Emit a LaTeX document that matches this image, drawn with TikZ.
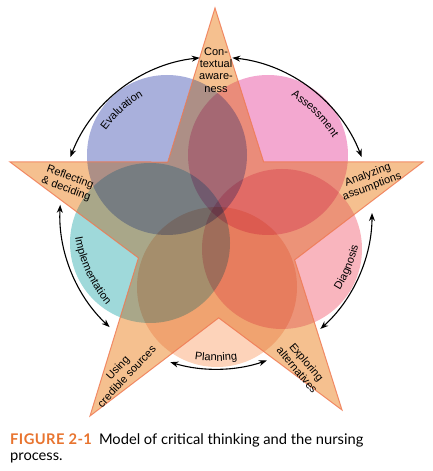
\documentclass[tikz,border=0pt]{standalone}
\usepackage{fontspec}
\setmainfont{Liberation Sans}
\newfontfamily\capfont{Lato}
\usetikzlibrary{arrows.meta,decorations.text,calc}
\definecolor{starfill}{HTML}{F5C08F}
\definecolor{starline}{HTML}{F07C56}
\definecolor{cblue}{HTML}{A9B0DC}
\definecolor{cpink}{HTML}{F3A8D0}
\definecolor{cdiag}{HTML}{F9B5BE}
\definecolor{cplan}{HTML}{FDD3BA}
\definecolor{cteal}{HTML}{9FD9DA}
\definecolor{iblue}{rgb}{0.71,0.745,0.94}
\definecolor{ipink}{rgb}{0.958,0.73,0.857}
\definecolor{idiag}{rgb}{0.963,0.77,0.84}
\definecolor{iplan}{rgb}{0.98,0.85,0.785}
\definecolor{iteal}{rgb}{0.69,0.875,0.966}
\definecolor{figorange}{HTML}{E8742F}
\newcommand\labfont{\fontsize{11}{12.3}\selectfont}
\begin{document}
\begin{tikzpicture}[x=1pt,y=1pt,
  lab/.style={font=\labfont, align=center, inner sep=0pt},
  cyc/.style={line width=1.1pt, {Stealth[length=8pt,width=6pt]}-{Stealth[length=8pt,width=6pt]}},
  disc/.style={blend mode=multiply},
  captext/.style={anchor=base west, inner sep=0pt, font=\capfont\fontsize{14.7}{17}\selectfont}]
\useasboundingbox (0,0) rectangle (433,471);
% star tips
\coordinate (T) at (215,463);
\coordinate (L) at (10,309);
\coordinate (R) at (423,309);
\coordinate (BL) at (90,55);
\coordinate (BR) at (342,61);
\coordinate (iTR) at (intersection of T--BR and L--R);
\coordinate (iRB) at (intersection of R--BL and BR--T);
\coordinate (iBB) at (intersection of BR--L and BL--R);
\coordinate (iBL) at (intersection of BL--T and L--BR);
\coordinate (iLT) at (intersection of L--R and T--BL);
\def\starpath{(T) -- (iTR) -- (R) -- (iRB) -- (BR) -- (iBB) -- (BL) -- (iBL) -- (L) -- (iLT) -- cycle}
\path[fill=starfill] \starpath;
% circles
\coordinate (O) at (216,258);
\coordinate (cB) at (167,316);
\coordinate (cP) at (268,316);
\coordinate (cD) at (282,222);
\coordinate (cN) at (217,184);
\coordinate (cT) at (150,228);
\begin{scope}
  \clip \starpath;
  \fill[disc, iblue] (cB) circle[radius=80];
  \fill[disc, ipink] (cP) circle[radius=80];
  \fill[disc, idiag] (cD) circle[radius=80];
  \fill[disc, iplan] (cN) circle[radius=80];
  \fill[disc, iteal] (cT) circle[radius=80];
\end{scope}
\begin{scope}[even odd rule]
  \clip (-5,-5) rectangle (440,480) \starpath;
  \fill[disc, cblue] (cB) circle[radius=80];
  \fill[disc, cpink] (cP) circle[radius=80];
  \fill[disc, cdiag] (cD) circle[radius=80];
  \fill[disc, cplan] (cN) circle[radius=80];
  \fill[disc, cteal] (cT) circle[radius=80];
\end{scope}
\path[draw=starline, line width=1pt, line join=miter, draw opacity=0.85] \starpath;
% cycle arcs
\draw[cyc] ($(O)+(84:156)$) arc[start angle=84, end angle=21, radius=156];
\draw[cyc] ($(O)+(0:156)$) arc[start angle=0, end angle=-48, radius=156];
\draw[cyc] ($(O)+(-71:156)$) arc[start angle=-71, end angle=-107, radius=156];
\draw[cyc] ($(O)+(227:156)$) arc[start angle=227, end angle=177, radius=156];
\draw[cyc] ($(O)+(159:156)$) arc[start angle=159, end angle=96, radius=156];
% curved labels
\path[decorate, decoration={text along path, text={|\labfont|Evaluation}, text align=center}]
  ($(O)+(165:138)$) arc[start angle=165, end angle=100, radius=138];
\path[decorate, decoration={text along path, text={|\labfont|Assessment}, text align=center}]
  ($(O)+(75:139)$) arc[start angle=75, end angle=15, radius=139];
\path[decorate, decoration={text along path, text={|\labfont|Diagnosis}, text align=center}]
  ($(O)+(-55:146)$) arc[start angle=-55, end angle=10, radius=146];
\path[decorate, decoration={text along path, text={|\labfont|Implementation}, text align=center}]
  ($(O)+(170:143)$) arc[start angle=170, end angle=240, radius=143];
\path[decorate, decoration={text along path, text={|\labfont|Planning}, text align=center}]
  ($(O)+(-120:148)$) arc[start angle=-120, end angle=-60, radius=148];
% straight labels
\node[lab] (ctx) at (216,401) {Con-\\textual\\aware-\\ness};
\node[lab, rotate=-20] (refl) at (68,288) {Reflecting\\\& deciding};
\node[lab, rotate=20] (anal) at (370,290) {Analyzing\\assumptions};
\node[lab, rotate=47] (using) at (122,99) {Using\\credible sources};
\node[lab, rotate=-50] (expl) at (302,105) {Exploring\\alternatives};
% caption
\node[captext] (cap1) at (10,26) {\textcolor{figorange}{\bfseries\addfontfeatures{LetterSpace=3}FIGURE 2-1}\hspace{7pt}Model of critical thinking and the nursing};
\node[captext] (cap2) at (10,10) {process.};
\end{tikzpicture}
\end{document}
